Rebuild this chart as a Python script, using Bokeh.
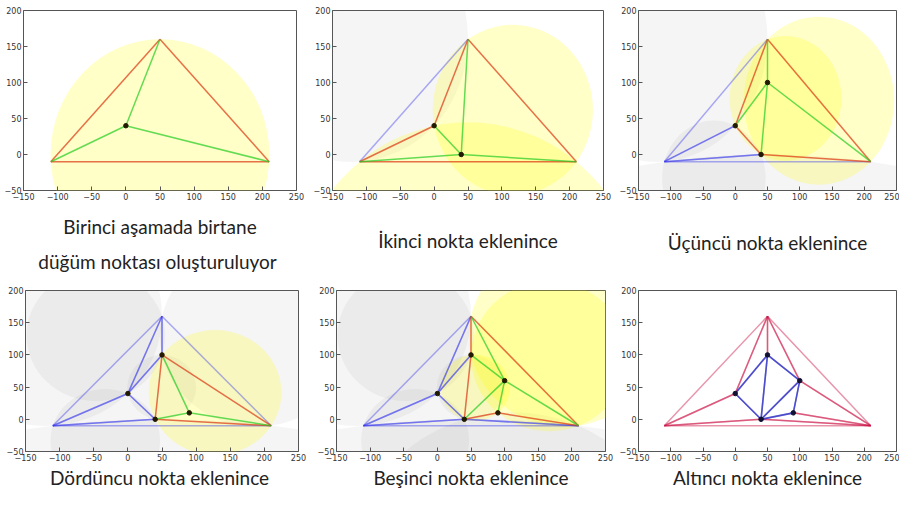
import math
from collections import Counter
from bokeh.plotting import figure
from bokeh.layouts import column, row
from bokeh.models import Range1d, Title
from bokeh.embed import file_html
from bokeh.resources import INLINE

# ---- data ----
super_x = [-110, 50, 210]          # super-triangle vertices A, B, C
super_y = [-10, 160, -10]
point_x = [0, 40, 50, 90, 100]     # inserted nodes, in insertion order
point_y = [40, 0, 100, 10, 60]
x_ticks = [-150, -100, -50, 0, 50, 100, 150, 200, 250]
x_tick_labels = ["−150", "−100", "−50", "0", "50", "100", "150", "200", "250"]
y_ticks = [-50, 0, 50, 100, 150, 200]
y_tick_labels = ["−50", "0", "50", "100", "150", "200"]
captions = [
    ["Birinci aşamada birtane", "düğüm noktası  oluşturuluyor"],
    ["İkinci nokta eklenince"],
    ["Üçüncü nokta eklenince"],
    ["Dördüncu  nokta eklenince"],
    ["Beşinci nokta eklenince"],
    ["Altıncı nokta eklenince"],
]

VX = super_x + point_x
VY = super_y + point_y
NS = len(super_x)


def circumcircle(t):
    ax, ay = VX[t[0]], VY[t[0]]
    bx, by = VX[t[1]], VY[t[1]]
    cx, cy = VX[t[2]], VY[t[2]]
    d = 2 * (ax * (by - cy) + bx * (cy - ay) + cx * (ay - by))
    a2, b2, c2 = ax * ax + ay * ay, bx * bx + by * by, cx * cx + cy * cy
    ux = (a2 * (by - cy) + b2 * (cy - ay) + c2 * (ay - by)) / d
    uy = (a2 * (cx - bx) + b2 * (ax - cx) + c2 * (bx - ax)) / d
    return ux, uy, math.hypot(ax - ux, ay - uy)


def edges(t):
    return [frozenset((t[0], t[1])), frozenset((t[1], t[2])), frozenset((t[0], t[2]))]


# Bowyer-Watson steps
tris = [(0, 1, 2)]
steps = []
for k in range(len(point_x)):
    p = NS + k
    good, bad = [], []
    for t in tris:
        ux, uy, r = circumcircle(t)
        (bad if math.hypot(VX[p] - ux, VY[p] - uy) < r else good).append(t)
    cnt = Counter(e for t in bad for e in edges(t))
    boundary = [e for e in cnt if cnt[e] == 1]
    steps.append(dict(good=good, bad=bad, boundary=boundary, p=p))
    tris = good + [tuple(sorted(e)) + (p,) for e in boundary]
final_tris = tris

# ---- layout (figure sizes / borders) ----
layout_specs = [
    # w, h, left, right, top, bottom
    (310, 282, 23, 14, 10, 92),
    (306, 282, 18, 13, 10, 92),
    (283, 282, 16, 3, 10, 92),
    (310, 208, 25, 12, 8, 39),
    (306, 208, 26, 11, 8, 39),
    (283, 208, 19, 3, 8, 39),
]
caption_standoffs = [[20, 0], [49], [52], [0], [0], [0]]


def make_fig(i):
    w, h, bl, br, bt, bb = layout_specs[i]
    p = figure(width=w, height=h, x_range=Range1d(-150, 250), y_range=Range1d(-50, 200),
               output_backend="svg", toolbar_location=None,
               min_border_left=bl, min_border_right=br, min_border_top=bt, min_border_bottom=bb)
    p.xgrid.visible = False
    p.ygrid.visible = False
    p.outline_line_color = "#555555"
    p.outline_line_width = 1
    p.background_fill_color = "white"
    p.border_fill_color = "white"
    p.axis.axis_line_color = None
    p.axis.major_tick_in = 4
    p.axis.major_tick_out = 0
    p.axis.minor_tick_in = 0
    p.axis.minor_tick_out = 0
    p.axis.major_tick_line_color = "#555555"
    p.axis.major_label_text_font = "DejaVu Sans"
    p.axis.major_label_text_font_size = "8px"
    p.axis.major_label_text_color = "#333333"
    p.axis.major_label_standoff = 2
    p.xaxis.ticker = x_ticks
    p.yaxis.ticker = y_ticks
    p.xaxis.major_label_overrides = dict(zip(x_ticks, x_tick_labels))
    p.yaxis.major_label_overrides = dict(zip(y_ticks, y_tick_labels))
    for text, so in zip(captions[i], caption_standoffs[i]):
        p.add_layout(Title(text=text, align="center", text_font="Lato", text_font_size="19px",
                           text_font_style="normal", text_color="#222222", standoff=so), "below")
    return p


def seg(elist):
    xs, ys = [], []
    for e in elist:
        a, b = sorted(e)
        xs.append([VX[a], VX[b]])
        ys.append([VY[a], VY[b]])
    return xs, ys


figs = []
for i, st in enumerate(steps):
    p = make_fig(i)
    for group, col, al in ((st["good"], "#808080", 0.08), (st["bad"], "#ffff00", 0.22)):
        if group:
            cc = [circumcircle(t) for t in group]
            p.ellipse(x=[c[0] for c in cc], y=[c[1] for c in cc],
                      width=[2 * c[2] for c in cc], height=[2 * c[2] for c in cc],
                      fill_color=col, fill_alpha=al, line_color=None)
    bset = set(st["boundary"])
    blue = [e for t in st["good"] for e in edges(t) if e not in bset]
    if blue:
        xs, ys = seg(blue)
        p.multi_line(xs, ys, line_color="#3333ee", line_alpha=0.4, line_width=1.5)
    xs, ys = seg(st["boundary"])
    p.multi_line(xs, ys, line_color="#dd3311", line_alpha=0.7, line_width=1.5)
    verts = sorted({v for e in st["boundary"] for v in e})
    xs, ys = seg([frozenset((st["p"], v)) for v in verts])
    p.multi_line(xs, ys, line_color="#22cc22", line_alpha=0.7, line_width=1.5)
    pts = list(range(NS, st["p"] + 1))
    p.scatter([VX[j] for j in pts], [VY[j] for j in pts], size=4.5, fill_color="#221a00",
              line_color="#221a00")
    figs.append(p)

# final triangulation
p = make_fig(5)
outer = [e for t in final_tris for e in edges(t) if min(e) < NS]
inner = [e for t in final_tris for e in edges(t) if min(e) >= NS]
xs, ys = seg(outer)
p.multi_line(xs, ys, line_color="#cc1144", line_alpha=0.45, line_width=1.5)
xs, ys = seg(inner)
p.multi_line(xs, ys, line_color="#1111bb", line_alpha=0.5, line_width=1.6)
p.scatter(point_x, point_y, size=4.5, fill_color="#111133", line_color="#111133")
figs.append(p)

layout = column(row(figs[0], figs[1], figs[2]), row(figs[3], figs[4], figs[5]))
open("out.html", "w").write(file_html(layout, INLINE))
